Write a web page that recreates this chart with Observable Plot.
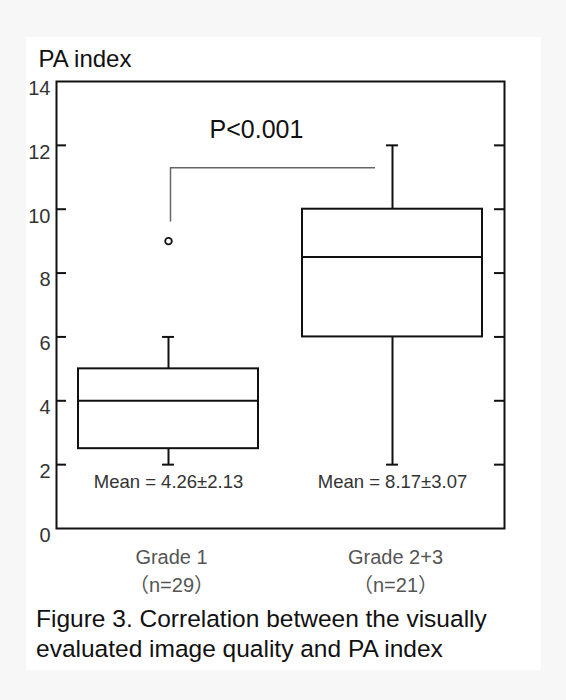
<!DOCTYPE html>
<html>
<head>
<meta charset="utf-8">
<script src="https://cdn.jsdelivr.net/npm/d3@7"></script>
<script src="https://cdn.jsdelivr.net/npm/@observablehq/plot@0.6"></script>
<style>
  body { margin: 0; background: #f7f7f7; width: 566px; height: 700px; overflow: hidden; }
  #panel { position: absolute; left: 26px; top: 37px; width: 515px; height: 633px; background: #fff; }
  #chart { position: absolute; left: 0; top: 0; }
  #caption { position: absolute; left: 36px; top: 604px; font-family: "Liberation Sans", Arial, sans-serif;
             font-size: 24.5px; line-height: 30px; color: #111; white-space: nowrap; }
</style>
</head>
<body>
<div id="panel"></div>
<div id="chart"></div>
<div id="caption">Figure 3. Correlation between the visually<br>evaluated image quality and PA index</div>
<script>
// ---- data ----
const groups      = ["Grade 1", "Grade 2+3"];
const groupLabels = ["Grade 1\n（n=29）", "Grade 2+3\n（n=21）"];
const whiskerLow  = [2, 2];
const q1          = [2.5, 6];
const median      = [4, 8.5];
const q3          = [5, 10];
const whiskerHigh = [6, 12];
const meanLabels  = ["Mean = 4.26±2.13", "Mean = 8.17±3.07"];
const outlierGroups = ["Grade 1"];
const outlierValues = [9];
const yTicks      = [0, 2, 4, 6, 8, 10, 12, 14];
const innerTicks  = [2, 4, 6, 8, 10, 12];
const bracketStart = [9.6];   // y where bracket leaves Grade 1
const bracketLevel = [11.3];  // y of horizontal bracket
const pValueText  = ["P<0.001"];
const yLabel      = ["PA index"];

// tables built from arrays
const boxes = groups.map((g, i) => ({
  group: g, label: groupLabels[i], lo: whiskerLow[i], q1: q1[i], med: median[i],
  q3: q3[i], hi: whiskerHigh[i], mean: meanLabels[i]
}));
const outliers = outlierGroups.map((g, i) => ({group: g, value: outlierValues[i]}));

const font = "'Liberation Sans', Arial, 'Noto Sans CJK JP', sans-serif";

const chart = Plot.plot({
  width: 566,
  height: 600,
  marginLeft: 56,
  marginRight: 62,
  marginTop: 81,
  marginBottom: 72,
  style: {background: "transparent", fontFamily: font, color: "#111"},
  x: {domain: groups, padding: 0, axis: null},
  y: {domain: [0, 14], axis: null},
  marks: [
    // y axis tick labels
    Plot.text(yTicks, {y: d => d, text: d => String(d), frameAnchor: "left", textAnchor: "end", dx: -6, dy: 7, fontSize: 20, fill: "#333"}),
    // inward tick marks on both sides
    Plot.ruleY(innerTicks, {y: d => d, insetRight: 438, stroke: "#111", strokeWidth: 2}),
    Plot.ruleY(innerTicks, {y: d => d, insetLeft: 438, stroke: "#111", strokeWidth: 2}),
    // whiskers
    Plot.ruleX(boxes, {x: "group", y1: "lo", y2: "q1", stroke: "#111", strokeWidth: 2}),
    Plot.ruleX(boxes, {x: "group", y1: "q3", y2: "hi", stroke: "#111", strokeWidth: 2}),
    Plot.tickY(boxes, {x: "group", y: "lo", insetLeft: 106, insetRight: 106, stroke: "#111", strokeWidth: 2}),
    Plot.tickY(boxes, {x: "group", y: "hi", insetLeft: 106, insetRight: 106, stroke: "#111", strokeWidth: 2}),
    // boxes
    Plot.barY(boxes, {x: "group", y1: "q1", y2: "q3", insetLeft: 22, insetRight: 22, fill: "white", stroke: "#111", strokeWidth: 2}),
    Plot.tickY(boxes, {x: "group", y: "med", insetLeft: 22, insetRight: 22, stroke: "#111", strokeWidth: 2}),
    // outlier
    Plot.dot(outliers, {x: "group", y: "value", r: 3.3, fill: "white", stroke: "#111", strokeWidth: 1.8}),
    // significance bracket
    Plot.ruleX(bracketStart, {x: () => groups[0], y1: d => d, y2: () => bracketLevel[0], dx: 2, stroke: "#666", strokeWidth: 1.5}),
    Plot.ruleY(bracketLevel, {y: d => d, x1: () => groups[0], x2: () => groups[1], insetLeft: 114, insetRight: 129, stroke: "#666", strokeWidth: 1.5}),
    Plot.text(pValueText, {text: d => d, frameAnchor: "top", dx: -24, dy: 56, lineAnchor: "bottom", fontSize: 25, fill: "#111"}),
    // mean labels
    Plot.text(boxes, {x: "group", y: "lo", text: "mean", dy: 17, fontSize: 18.5, fill: "#333"}),
    // x labels
    Plot.text(boxes, {x: "group", text: "label", frameAnchor: "bottom", lineAnchor: "top", dy: 15, dx: 3, lineHeight: 1.42, fontSize: 20, fill: "#555"}),
    // y label
    Plot.text(yLabel, {text: d => d, frameAnchor: "top-left", textAnchor: "start", lineAnchor: "bottom", dx: -18, dy: -15, fontSize: 24, fill: "#111"}),
    // frame
    Plot.frame({stroke: "#111", strokeWidth: 2})
  ]
});
document.getElementById("chart").appendChild(chart);
</script>
</body>
</html>
